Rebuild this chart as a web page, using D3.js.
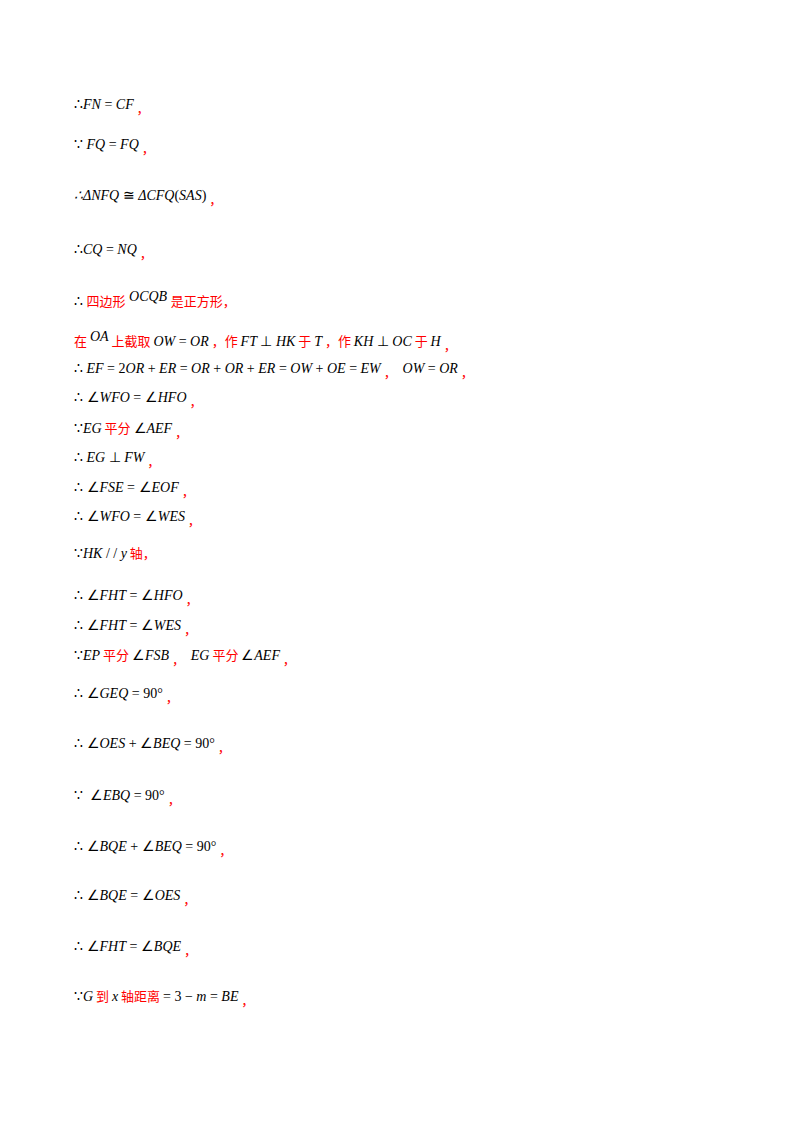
<!DOCTYPE html>
<html><head><meta charset="utf-8">
<script src="https://cdn.jsdelivr.net/npm/d3@7"></script>
<style>body{margin:0;background:#fff}</style></head>
<body><svg id="c" width="800" height="1132"></svg>
<script>
// segment codes: m = black math italic, s = black symbol upright, r = red CJK, c = red comma, u = raised math
const lines = [
 [["∴","s"],["FN","m"],[" = ","s"],["CF","m"],[" ，","c"]],
 [["∵ ","s"],["FQ","m"],[" = ","s"],["FQ","m"],[" ，","c"]],
 [["∴ΔNFQ","m"],[" ≅ ","s"],["ΔCFQ","m"],["(","s"],["SAS","m"],[")","s"],[" ，","c"]],
 [["∴","s"],["CQ","m"],[" = ","s"],["NQ","m"],[" ，","c"]],
 [["∴ ","s"],["四边形","r"],[" OCQB ","u"],["是正方形，","r"]],
 [["在 ","r"],["OA","u"],[" 上截取 ","r"],["OW","m"],[" = ","s"],["OR","m"],[" ，作 ","r"],["FT","m"],[" ⊥ ","s"],["HK","m"],[" 于 ","r"],["T","m"],[" ，作 ","r"],["KH","m"],[" ⊥ ","s"],["OC","m"],[" 于 ","r"],["H","m"],[" ，","c"]],
 [["∴ ","s"],["EF","m"],[" = 2","s"],["OR","m"],[" + ","s"],["ER","m"],[" = ","s"],["OR","m"],[" + ","s"],["OR","m"],[" + ","s"],["ER","m"],[" = ","s"],["OW","m"],[" + ","s"],["OE","m"],[" = ","s"],["EW","m"],[" ，  ","c"],["OW","m"],[" = ","s"],["OR","m"],[" ，","c"]],
 [["∴ ∠","s"],["WFO","m"],[" = ∠","s"],["HFO","m"],[" ，","c"]],
 [["∵","s"],["EG","m"],[" 平分 ","r"],["∠","s"],["AEF","m"],[" ，","c"]],
 [["∴ ","s"],["EG","m"],[" ⊥ ","s"],["FW","m"],[" ，","c"]],
 [["∴ ∠","s"],["FSE","m"],[" = ∠","s"],["EOF","m"],[" ，","c"]],
 [["∴ ∠","s"],["WFO","m"],[" = ∠","s"],["WES","m"],[" ，","c"]],
 [["∵","s"],["HK","m"],[" / / ","s"],["y","m"],[" 轴，","r"]],
 [["∴ ∠","s"],["FHT","m"],[" = ∠","s"],["HFO","m"],[" ，","c"]],
 [["∴ ∠","s"],["FHT","m"],[" = ∠","s"],["WES","m"],[" ，","c"]],
 [["∵","s"],["EP","m"],[" 平分 ","r"],["∠","s"],["FSB","m"],[" ，  ","c"],["EG","m"],[" 平分 ","r"],["∠","s"],["AEF","m"],[" ，","c"]],
 [["∴ ∠","s"],["GEQ","m"],[" = 90°","s"],[" ，","c"]],
 [["∴ ∠","s"],["OES","m"],[" + ∠","s"],["BEQ","m"],[" = 90°","s"],[" ，","c"]],
 [["∵  ∠","s"],["EBQ","m"],[" = 90°","s"],[" ，","c"]],
 [["∴ ∠","s"],["BQE","m"],[" + ∠","s"],["BEQ","m"],[" = 90°","s"],[" ，","c"]],
 [["∴ ∠","s"],["BQE","m"],[" = ∠","s"],["OES","m"],[" ，","c"]],
 [["∴ ∠","s"],["FHT","m"],[" = ∠","s"],["BQE","m"],[" ，","c"]],
 [["∵","s"],["G","m"],[" 到 ","r"],["x","m"],[" 轴距离 ","r"],["= 3 − ","s"],["m","m"],[" = ","s"],["BE","m"],[" ，","c"]]
];
const baselines = [109,149,200,254,306,346,373,402,433,462,492,521,558,600,630,660,698,748,800,851,900,951,1001];

const svg = d3.select("#c");
const styles = {
 m:{fill:"#000","font-family":"Liberation Serif, serif","font-style":"italic","font-size":"14px",dy:0},
 u:{fill:"#000","font-family":"Liberation Serif, serif","font-style":"italic","font-size":"14px",dy:-5},
 s:{fill:"#000","font-family":"Liberation Serif, serif","font-style":"normal","font-size":"14px",dy:0},
 r:{fill:"#f00","font-family":"Noto Sans CJK SC, sans-serif","font-style":"normal","font-size":"13px",dy:0},
 c:{fill:"#f00","font-family":"Noto Sans CJK SC, sans-serif","font-style":"normal","font-size":"13px",dy:4}
};
lines.forEach((segs,i)=>{
 const t = svg.append("text").attr("x",74).attr("y",baselines[i]).attr("xml:space","preserve").style("white-space","pre");
 let prev = 0;
 segs.forEach(([txt,k])=>{
   const st = styles[k];
   t.append("tspan").text(txt).attr("fill",st.fill)
     .attr("font-family",st["font-family"]).attr("font-style",st["font-style"]).attr("font-size",st["font-size"])
     .attr("dy",st.dy-prev);
   prev = st.dy;
 });
});
</script></body></html>
